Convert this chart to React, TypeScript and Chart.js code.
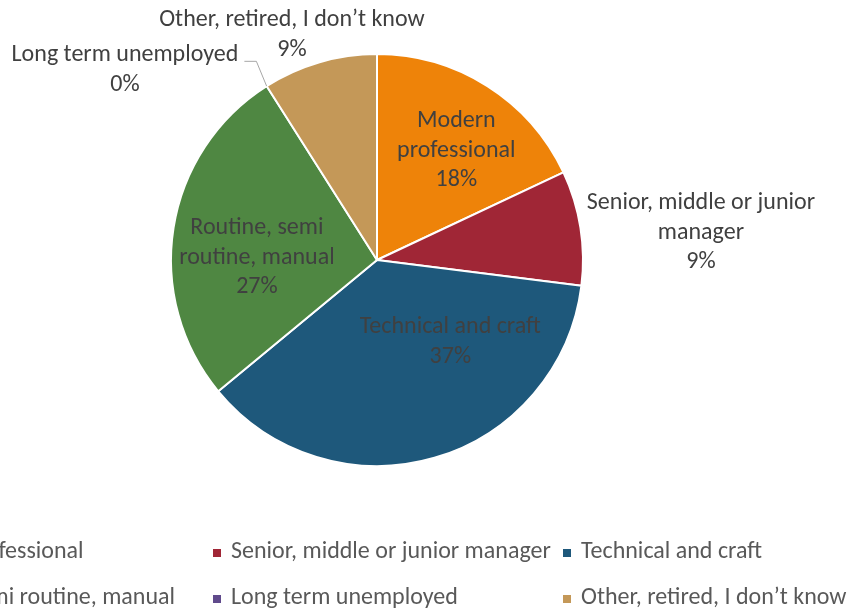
import React, { useEffect, useRef } from "react";
import { Chart, registerables } from "chart.js";

Chart.register(...registerables);

// ---- data ----
const categories = [
  "Modern professional",
  "Senior, middle or junior manager",
  "Technical and craft",
  "Routine, semi routine, manual",
  "Long term unemployed",
  "Other, retired, I don’t know",
];
const shares = [18, 9, 37, 27, 0, 9];
const sliceColors = ["#EE8309", "#A02636", "#1E587B", "#4F8742", "#604A8C", "#C49858"];
const labelLines = [
  ["Modern", "professional"],
  ["Senior, middle or junior", "manager"],
  ["Technical and craft"],
  ["Routine, semi", "routine, manual"],
  ["Long term unemployed"],
  ["Other, retired, I don’t know"],
];

// ---- styling / layout config ----
const FONT_FAMILY = "Carlito, Lato, sans-serif";
const FONT_SIZE = 24;
const LINE_H = 29.5;
const LABEL_COLOR = "#404040";
const LEGEND_COLOR = "#595959";
// label anchor: angle (deg, clockwise from 12 o'clock) and distance as a fraction of radius
const labelPlacement = [
  { angle: 36, r: 0.655 },
  { angle: 85.2, r: 1.578 },
  { angle: 138.2, r: 0.534 },
  { angle: 271, r: 0.583 },
  { angle: 307, r: 1.532, leader: true },
  { angle: 339.3, r: 1.168 },
];
const legendLayout = { firstMarkerX: -137, colWidth: 350, rowY: [552, 598], marker: 8, gap: 10 };

const dataLabelPlugin = {
  id: "sliceLabels",
  afterDatasetsDraw(chart: any) {
    const ctx = chart.ctx;
    const meta = chart.getDatasetMeta(0);
    ctx.save();
    ctx.font = `${FONT_SIZE}px ${FONT_FAMILY}`;
    ctx.fillStyle = LABEL_COLOR;
    ctx.textAlign = "center";
    ctx.textBaseline = "middle";
    meta.data.forEach((arc: any, i: number) => {
      const p = labelPlacement[i];
      const R = arc.outerRadius;
      const a = (p.angle * Math.PI) / 180;
      const lx = arc.x + Math.sin(a) * R * p.r;
      const ly = arc.y - Math.cos(a) * R * p.r;
      const lines = [...labelLines[i], `${shares[i]}%`];
      const top = ly - ((lines.length - 1) * LINE_H) / 2;
      let maxW = 0;
      lines.forEach((t, k) => {
        ctx.fillText(t, lx, top + k * LINE_H);
        maxW = Math.max(maxW, ctx.measureText(t).width);
      });
      if ((p as any).leader) {
        const sx = lx + maxW / 2 + 6;
        const sy = top + 6;
        const ex = arc.x + Math.cos(arc.startAngle) * R;
        const ey = arc.y + Math.sin(arc.startAngle) * R;
        ctx.strokeStyle = "#A6A6A6";
        ctx.lineWidth = 1;
        ctx.beginPath();
        ctx.moveTo(sx, sy);
        ctx.lineTo(sx + 12, sy);
        ctx.lineTo(ex, ey);
        ctx.stroke();
      }
    });
    ctx.restore();
  },
};

const gridLegendPlugin = {
  id: "gridLegend",
  afterDraw(chart: any) {
    const ctx = chart.ctx;
    const ds = chart.data.datasets[0];
    ctx.save();
    ctx.font = `${FONT_SIZE}px ${FONT_FAMILY}`;
    ctx.textAlign = "left";
    ctx.textBaseline = "middle";
    chart.data.labels.forEach((label: string, i: number) => {
      const row = Math.floor(i / 3);
      const col = i % 3;
      const mx = legendLayout.firstMarkerX + col * legendLayout.colWidth;
      const y = legendLayout.rowY[row];
      const m = legendLayout.marker;
      ctx.fillStyle = ds.backgroundColor[i];
      ctx.fillRect(mx, y - m / 2 + 1, m, m);
      ctx.fillStyle = LEGEND_COLOR;
      ctx.fillText(label, mx + m + legendLayout.gap, y);
    });
    ctx.restore();
  },
};

export default function App() {
  const ref = useRef<HTMLCanvasElement | null>(null);
  useEffect(() => {
    if (!ref.current) return;
    const chart = new Chart(ref.current, {
      type: "pie",
      data: {
        labels: categories,
        datasets: [
          {
            data: shares,
            backgroundColor: sliceColors,
            borderColor: "#FFFFFF",
            borderWidth: 2,
          },
        ],
      },
      options: {
        responsive: false,
        animation: false,
        devicePixelRatio: 1,
        layout: { padding: { left: 170, right: 267, top: 53, bottom: 144 } },
        plugins: { legend: { display: false }, tooltip: { enabled: false } },
      },
      plugins: [dataLabelPlugin, gridLegendPlugin],
    });
    return () => chart.destroy();
  }, []);
  return (
    <div style={{ position: "fixed", left: 0, top: 0, width: 851, height: 611, background: "#FFFFFF" }}>
      <canvas ref={ref} width={851} height={611} style={{ width: 851, height: 611, display: "block" }} />
    </div>
  );
}
